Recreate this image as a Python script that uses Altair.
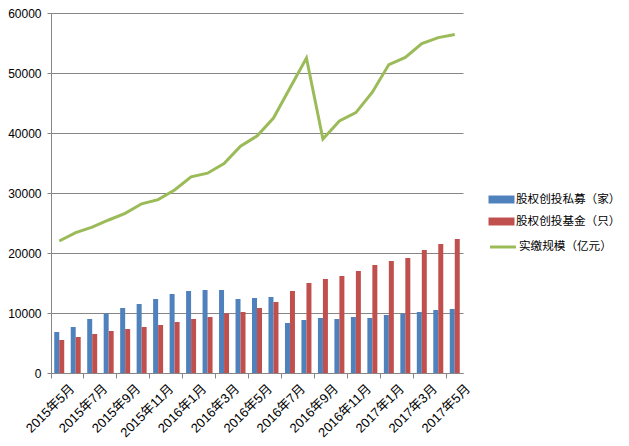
import altair as alt
import pandas as pd

months = ["2015年5月", "2015年6月", "2015年7月", "2015年8月", "2015年9月", "2015年10月",
          "2015年11月", "2015年12月", "2016年1月", "2016年2月", "2016年3月", "2016年4月",
          "2016年5月", "2016年6月", "2016年7月", "2016年8月", "2016年9月", "2016年10月",
          "2016年11月", "2016年12月", "2017年1月", "2017年2月", "2017年3月", "2017年4月",
          "2017年5月"]

series_names = ["股权创投私募（家）", "股权创投基金（只）", "实缴规模（亿元）"]

private_firms = [6830, 7670, 9000, 9940, 10830, 11500, 12330, 13170, 13670, 13830,
                 13830, 12330, 12500, 12670, 8330, 8830, 9170, 9000, 9330, 9170,
                 9670, 9890, 10170, 10500, 10670]
funds = [5500, 6000, 6500, 7000, 7330, 7670, 8000, 8500, 9000, 9330, 9940, 10170,
         10830, 11830, 13670, 15000, 15670, 16170, 17000, 18000, 18670, 19170,
         20500, 21500, 22330]
paid_in = [22000, 23400, 24300, 25500, 26600, 28200, 28900, 30500, 32700, 33300,
           34900, 37800, 39500, 42500, 47500, 52500, 39000, 42000, 43400, 46800,
           51400, 52600, 54900, 55900, 56400]

label_months = months[::2]
y_ticks = [0, 10000, 20000, 30000, 40000, 50000, 60000]

bar_df = pd.DataFrame({
    "month": months * 2,
    "series": [series_names[0]] * len(months) + [series_names[1]] * len(months),
    "value": private_firms + funds,
})
line_df = pd.DataFrame({"month": months, "series": series_names[2], "value": paid_in})

FONT = "Liberation Sans, Noto Sans CJK SC, sans-serif"
GRID = "#868686"

x_enc = alt.X(
    "month:N", sort=months, title=None,
    scale=alt.Scale(paddingInner=0, paddingOuter=0),
    axis=alt.Axis(values=label_months, bandPosition=0, labelOffset=9, labelAngle=-45,
                  labelAlign="right", labelBaseline="top",
                  tickSize=5, tickColor=GRID, domainColor=GRID, labelColor="#000000",
                  labelFont=FONT, labelFontSize=13, labelPadding=4, grid=False),
)
y_enc = alt.Y(
    "value:Q", title=None,
    scale=alt.Scale(domain=[0, 60000], nice=False),
    axis=alt.Axis(values=y_ticks, format="d", grid=True, gridColor=GRID, tickColor=GRID,
                  domainColor=GRID, tickSize=4, labelPadding=6, labelColor="#000000",
                  labelFont=FONT, labelFontSize=12),
)

bars = alt.Chart(bar_df).mark_bar().encode(
    x=x_enc,
    y=y_enc,
    xOffset=alt.XOffset("series:N", sort=series_names[:2],
                        scale=alt.Scale(paddingInner=0, paddingOuter=0.65)),
    fill=alt.Fill("series:N", sort=series_names[:2],
                  scale=alt.Scale(domain=series_names[:2], range=["#4F81BD", "#C0504D"]),
                  legend=alt.Legend(title=None, orient="none", legendX=442, legendY=178,
                                    symbolType="M-1.6,-0.49H1.6V0.49H-1.6Z", symbolSize=264,
                                    symbolStrokeWidth=0, labelOffset=6, rowPadding=7,
                                    labelFont=FONT, labelFontSize=11.6, labelColor="#000000")),
)

line = alt.Chart(line_df).mark_line(strokeWidth=3).encode(
    x=alt.X("month:N", sort=months),
    y=alt.Y("value:Q"),
    stroke=alt.Stroke("series:N",
                      scale=alt.Scale(domain=[series_names[2]], range=["#9BBB59"]),
                      legend=alt.Legend(title=None, orient="none", legendX=442, legendY=224,
                                        symbolType="M-1.6,0H1.6", symbolSize=264,
                                        symbolStrokeWidth=3, labelOffset=6,
                                        labelFont=FONT, labelFontSize=11.6, labelColor="#000000")),
)

chart = alt.layer(bars, line).resolve_scale(fill="independent", stroke="independent").properties(
    width=412, height=360,
    autosize=alt.AutoSizeParams(type="none"),
    padding={"left": 43, "top": 5, "right": 158, "bottom": 73},
    background="#ffffff",
).configure_view(stroke=None)

chart.save("out.html", embed_options={"renderer": "svg", "actions": False})
